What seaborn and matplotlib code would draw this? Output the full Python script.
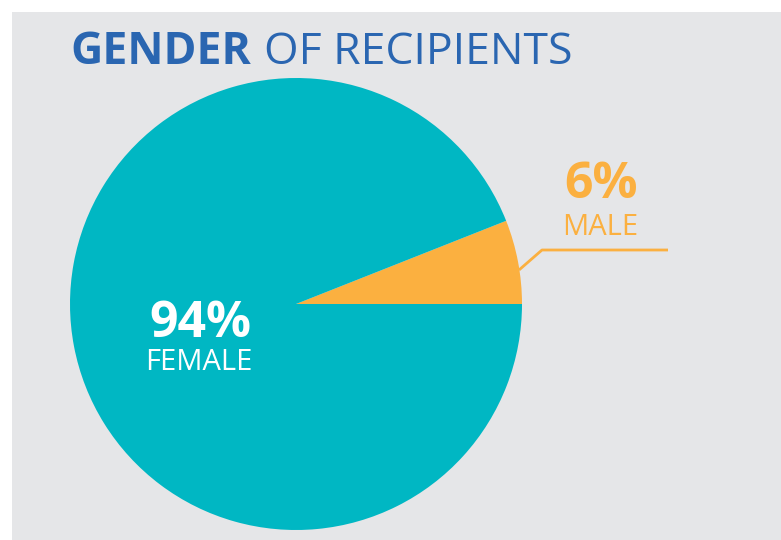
import matplotlib
matplotlib.use("Agg")
import matplotlib.pyplot as plt
from matplotlib.patches import Rectangle
import seaborn as sns

labels = ["MALE", "FEMALE"]
shares = [6, 94]
colors = ["#fbb040", "#00b7c3"]

sns.set_theme(style="white")
plt.rcParams["font.family"] = ["Open Sans", "DejaVu Sans"]

W, H = 781, 540
fig = plt.figure(figsize=(W / 100, H / 100), dpi=100, facecolor="white")
ax = fig.add_axes([0, 0, 1, 1])

# grey panel
ax.add_patch(Rectangle((12, 0), W - 12, H - 12, facecolor="#e5e6e8",
                       edgecolor="none", zorder=0))

ax.pie(shares, colors=colors, startangle=0, counterclock=True,
       center=(296, H - 304), radius=226, frame=True,
       wedgeprops=dict(linewidth=0, zorder=2))

ax.set_xlim(0, W)
ax.set_ylim(0, H)
ax.set_aspect("equal")
ax.axis("off")

# title
blue = "#2a66b1"
ax.text(70, H - 64, "GENDER", fontsize=32, fontweight="bold", color=blue,
        ha="left", va="baseline")
ax.text(264, H - 64, "OF RECIPIENTS", fontsize=32, color=blue,
        ha="left", va="baseline")

# female label
ax.text(200, H - 337, f"{shares[1]}%", fontsize=36, fontweight="bold",
        color="white", ha="center", va="baseline")
ax.text(199, H - 370, labels[1], fontsize=21, color="white",
        ha="center", va="baseline")

# male label + leader line
ax.text(601, H - 198, f"{shares[0]}%", fontsize=36, fontweight="bold",
        color=colors[0], ha="center", va="baseline")
ax.text(600, H - 235, labels[0], fontsize=21, color=colors[0],
        ha="center", va="baseline")
ax.plot([519, 542, 668], [H - 270, H - 250, H - 250], color=colors[0],
        lw=2, solid_capstyle="butt", zorder=3)

fig.savefig("out.png", dpi=100, facecolor="white")
